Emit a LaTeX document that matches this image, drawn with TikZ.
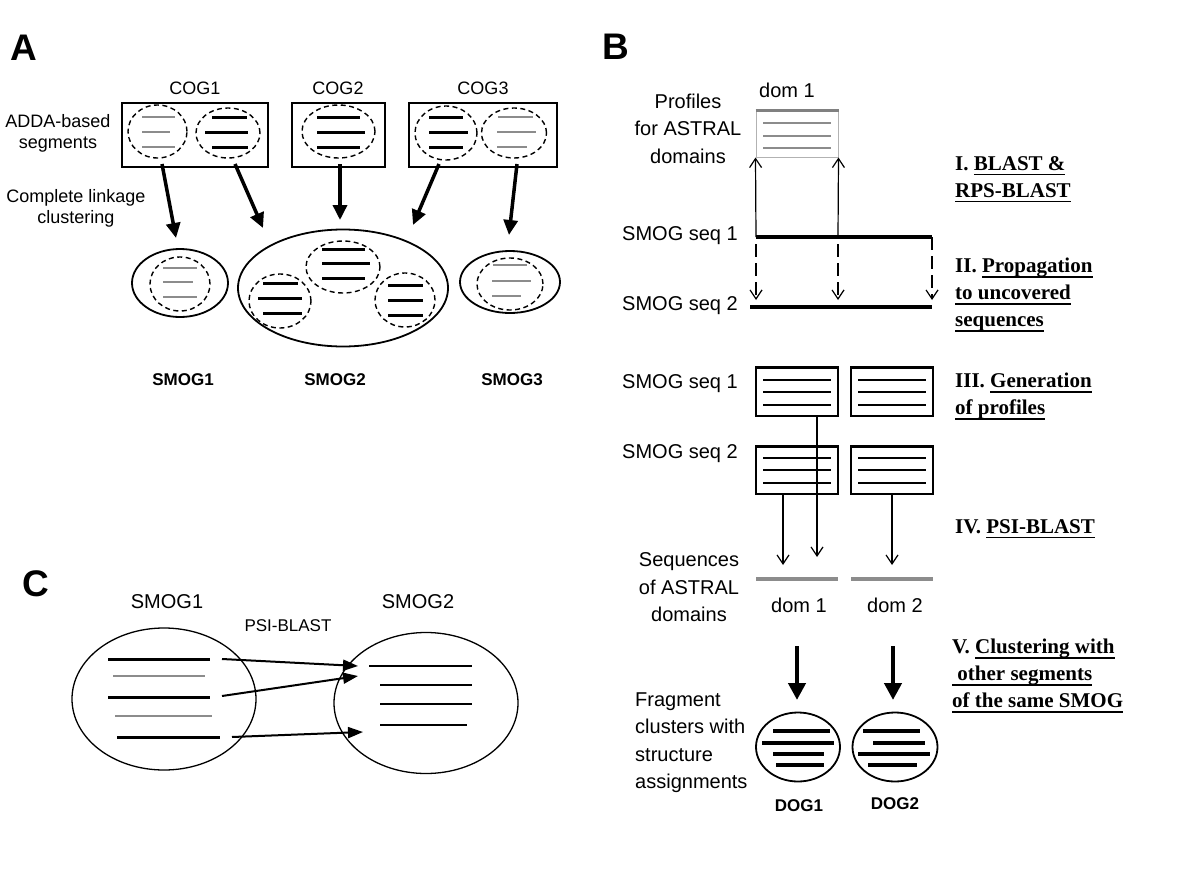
\documentclass[tikz,border=0pt]{standalone}
\usepackage{fontspec}
\setmainfont{Liberation Sans}
\newfontfamily\stepfont{Liberation Serif}
\usetikzlibrary{shapes.geometric,arrows.meta}

\definecolor{seggray}{gray}{0.55}
\definecolor{boxgray}{gray}{0.70}

% underline for the step titles
\newcommand{\stepul}[1]{\setbox0=\hbox{#1}\rlap{\rule[-5.3pt]{\wd0}{1.6pt}}\box0}

\begin{document}
\begin{tikzpicture}[x=1pt,y=-1pt,
  lbl/.style={inner sep=0pt, font=\fontsize{20}{27.5}\selectfont},
  albl/.style={inner sep=0pt, font=\fontsize{18}{21}\selectfont},
  blbl/.style={inner sep=0pt, font=\bfseries\fontsize{17}{20}\selectfont},
  panel/.style={inner sep=0pt, anchor=base west, font=\bfseries\fontsize{37}{37}\selectfont},
  steplbl/.style={inner sep=0pt, anchor=north west, align=left, font=\stepfont\bfseries\fontsize{21}{27}\selectfont},
  cogbox/.style={draw, line width=1.6pt, minimum width=#1, minimum height=64pt, inner sep=0pt},
  segell/.style 2 args={draw, ellipse, line width=1.4pt, dash pattern=on 5pt off 3.5pt, minimum width=#1, minimum height=#2, inner sep=0pt},
  clell/.style 2 args={draw, ellipse, line width=1.8pt, minimum width=#1, minimum height=#2, inner sep=0pt},
  pbox/.style={draw, line width=1.5pt, minimum width=82pt, minimum height=47pt, inner sep=0pt},
  blk/.style={line width=3pt},
  gry/.style={line width=2.5pt, seggray},
  fatarrow/.style={line width=3.5pt, -{Triangle[length=15pt,width=14pt]}},
  thinarrow/.style={line width=1.2pt, -{Straight Barb[length=9pt,width=12pt]}},
  seqline/.style={line width=3.5pt},
]
\useasboundingbox (0,0) rectangle (1200,886);
%\draw [lightgray] (0,0) grid [step=50] (1200,886);

%%% A
\node[panel] (lblA) at (10,60) {A};
\node[albl, anchor=base] (cog1t) at (195,94) {COG1};
\node[albl, anchor=base] (cog2t) at (338,94) {COG2};
\node[albl, anchor=base] (cog3t) at (483,94) {COG3};

\node[cogbox=146] (cog1) at (195,135) {};
\node[cogbox=93] (cog2) at (338.5,135) {};
\node[cogbox=148] (cog3) at (483,135) {};

\node[segell={59}{53}] (s11) at (157.5,131.5) {};
\node[segell={64}{50}] (s12) at (228,133) {};
\node[segell={73}{53}] (s21) at (338.5,131.5) {};
\node[segell={62}{54}] (s31) at (446,133) {};
\node[segell={65}{50}] (s32) at (514,133) {};

\foreach \y/\a/\b in {117/142/175,132/142/170,147/142/175} \draw[gry] (\a,\y) -- (\b,\y);
\foreach \y/\a/\b in {117/212/247,132/205/248,147/212/248} \draw[blk] (\a,\y) -- (\b,\y);
\foreach \y/\a/\b in {117/317/360,132/317/365,147/317/360} \draw[blk] (\a,\y) -- (\b,\y);
\foreach \y/\a/\b in {117/429/463,132/429/468,147/429/463} \draw[blk] (\a,\y) -- (\b,\y);
\foreach \y/\a/\b in {117/498/533,132/497/536,147/497/527} \draw[gry] (\a,\y) -- (\b,\y);

\node[albl, align=center, anchor=north] (adda) at (58,114) {ADDA-based\\segments};
\node[albl, align=center, anchor=north] (cll) at (76,189) {Complete linkage\\clustering};

% clusters
\node[clell={96}{68}] (smog1) at (180,283) {};
\node[segell={60}{54}] (c11) at (180,284) {};
\foreach \y/\a/\b in {268/163/197,282/163/193,297/163/197} \draw[gry] (\a,\y) -- (\b,\y);

\node[clell={210}{117}] (smog2) at (343,288) {};
\node[segell={74}{52}] (c21) at (343,267) {};
\node[segell={62}{54}] (c22) at (280,301) {};
\node[segell={60}{54}] (c23) at (405,300) {};
\foreach \y/\a/\b in {249/322/365,263/322/370,278/322/365} \draw[blk] (\a,\y) -- (\b,\y);
\foreach \y/\a/\b in {283/263/298,298/258/302,313/263/302} \draw[blk] (\a,\y) -- (\b,\y);
\foreach \y/\a/\b in {285/388/423,300/388/423,315/388/423} \draw[blk] (\a,\y) -- (\b,\y);

\node[clell={100}{62}] (smog3) at (510,282) {};
\node[segell={66}{52}] (c31) at (510,284) {};
\foreach \y/\a/\b in {265/493/527,281/492/531,296/492/521} \draw[gry] (\a,\y) -- (\b,\y);

\node[blbl, anchor=base] (smog1t) at (183,385) {SMOG1};
\node[blbl, anchor=base] (smog2t) at (335,385) {SMOG2};
\node[blbl, anchor=base] (smog3t) at (512,385) {SMOG3};

\coordinate (a1) at (162,164); \coordinate (b1) at (176,238);
\coordinate (a2) at (235,164); \coordinate (b2) at (263,228);
\coordinate (a3) at (340,164); \coordinate (b3) at (340,220);
\coordinate (a4) at (439,164); \coordinate (b4) at (413,225);
\coordinate (a5) at (517,164); \coordinate (b5) at (509,235);
\draw[fatarrow] (a1) -- (b1);
\draw[fatarrow] (a2) -- (b2);
\draw[fatarrow] (a3) -- (b3);
\draw[fatarrow] (a4) -- (b4);
\draw[fatarrow] (a5) -- (b5);

%%% B
\node[panel] (lblB) at (602,59) {B};
\node[lbl, anchor=base] (dom1t) at (787,97) {dom 1};
\node[draw=boxgray, line width=1pt, minimum width=82pt, minimum height=46pt, inner sep=0pt] (prof) at (797,134) {};
\draw[line width=3pt, gray] (prof.north west) -- (prof.north east);
\foreach \y in {123,136,148} \draw[line width=1.5pt, seggray] (763,\y) -- (831,\y);
\node[lbl, align=center, anchor=north] (proft) at (688,93.5) {Profiles\\for ASTRAL\\domains};

\node[lbl, anchor=base east] (seq1t) at (738,240) {SMOG seq 1};
\node[lbl, anchor=base east] (seq2t) at (738,310) {SMOG seq 2};
\coordinate (s1a) at (756,237); \coordinate (s1m) at (838,237); \coordinate (s1b) at (932,237);
\coordinate (s2a) at (750,307); \coordinate (s2b) at (932,307);
\draw[seqline] (s1a) -- (s1b);
\draw[seqline] (s2a) -- (s2b);
\draw[thinarrow] (s1a) -- (prof.south west);
\draw[thinarrow] (s1m) -- (prof.south east);

\coordinate (e1) at (756,300); \coordinate (e2) at (838,300); \coordinate (e3) at (932,300);
\draw[thinarrow, dash pattern=on 13pt off 6pt] (756,244) -- (e1);
\draw[thinarrow, dash pattern=on 13pt off 6pt] (838,244) -- (e2);
\draw[thinarrow, dash pattern=on 13pt off 6pt] (s1b) -- (e3);

\node[steplbl] (st1) at (955,156) {I. \stepul{BLAST \&}\\\stepul{RPS-BLAST}};
\node[steplbl] (st2) at (955,258) {II. \stepul{Propagation}\\\stepul{to uncovered}\\\stepul{sequences}};
\node[steplbl] (st3) at (955,373) {III. \stepul{Generation}\\\stepul{of profiles}};
\node[steplbl] (st4) at (955,519) {IV. \stepul{PSI-BLAST}};
\node[steplbl] (st5) at (952,639) {V. \stepul{Clustering with}\\\stepul{\ other segments}\\\stepul{of the same SMOG}};

% profiles
\node[lbl, anchor=base east] (seq1b) at (738,388) {SMOG seq 1};
\node[lbl, anchor=base east] (seq2b) at (738,458) {SMOG seq 2};
\node[pbox, minimum height=48pt] (p11) at (797,392) {};
\node[pbox, minimum height=48pt] (p12) at (892,392) {};
\node[pbox] (p21) at (797,470.5) {};
\node[pbox] (p22) at (892,470.5) {};
\foreach \n in {p11,p12,p21,p22} \draw[line width=3.5pt] (\n.north west) -- (\n.north east);
\foreach \cx in {797,892} \foreach \y in {380,392,405,458,470,483} \draw[line width=1.5pt] (\cx-34,\y) -- (\cx+34,\y);

\coordinate (q1) at (817,557); \coordinate (q2) at (783,565); \coordinate (q3) at (892,565);
\draw[thinarrow] (p11.south -| q1) -- (q1);
\draw[thinarrow] (p21.south -| q2) -- (q2);
\draw[thinarrow] (p22.south) -- (q3);

\draw[line width=4pt, seggray] (756,579) -- (838,579);
\draw[line width=4pt, seggray] (851,579) -- (933,579);
\node[lbl, anchor=base] (dom1b) at (799,612) {dom 1};
\node[lbl, anchor=base] (dom2b) at (895,612) {dom 2};
\node[lbl, align=center, anchor=north] (seqt) at (689,552.5) {Sequences\\of ASTRAL\\domains};

% DOGs
\node[clell={84}{69}] (dog1) at (798,747) {};
\node[clell={85}{69}] (dog2) at (895,747) {};
\foreach \y/\a/\b in {731/773/830,743/762/834,754/773/824,765/776/824} \draw[line width=4pt] (\a,\y) -- (\b,\y);
\foreach \y/\a/\b in {731/863/920,743/873/925,754/858/930,765/868/917} \draw[line width=4pt] (\a,\y) -- (\b,\y);
\coordinate (v1) at (797,646); \coordinate (w1) at (797,700);
\coordinate (v2) at (893,646); \coordinate (w2) at (893,700);
\draw[line width=4.5pt, -{Triangle[length=17pt,width=17pt]}] (v1) -- (w1);
\draw[line width=4.5pt, -{Triangle[length=17pt,width=17pt]}] (v2) -- (w2);
\node[blbl, anchor=base] (dog1t) at (799,811) {DOG1};
\node[blbl, anchor=base] (dog2t) at (895,809) {DOG2};
\node[lbl, align=left, anchor=north west] (fragt) at (635,692.5) {Fragment\\clusters with\\structure\\assignments};

%%% C
\node[panel] (lblC) at (22,596) {C};
\node[lbl, anchor=base] (smc1t) at (167,608) {SMOG1};
\node[lbl, anchor=base] (smc2t) at (418,608) {SMOG2};
\node[inner sep=0pt, font=\fontsize{17}{20}\selectfont, anchor=base] (psit) at (288,631) {PSI-BLAST};
\node[draw, ellipse, line width=1.3pt, minimum width=184pt, minimum height=142pt, inner sep=0pt] (cs1) at (164,699) {};
\node[draw, ellipse, line width=1.3pt, minimum width=184pt, minimum height=141pt, inner sep=0pt] (cs2) at (426,703) {};
\foreach \y/\a/\b in {659/108/210,697/108/210,737/117/220} \draw[blk] (\a,\y) -- (\b,\y);
\foreach \y/\a/\b in {676/113/205,716/115/212} \draw[gry] (\a,\y) -- (\b,\y);
\foreach \y/\a/\b in {666/369/472,685/380/472,704/380/472,725/380/467} \draw[line width=2.2pt] (\a,\y) -- (\b,\y);
\coordinate (f1) at (222,659); \coordinate (g1) at (358,666);
\coordinate (f2) at (222,696); \coordinate (g2) at (358,676);
\coordinate (f3) at (232,737); \coordinate (g3) at (363,732);
\draw[line width=2pt, -{Triangle[length=15pt,width=11pt]}] (f1) -- (g1);
\draw[line width=2pt, -{Triangle[length=15pt,width=11pt]}] (f2) -- (g2);
\draw[line width=2pt, -{Triangle[length=15pt,width=11pt]}] (f3) -- (g3);

\end{tikzpicture}
\end{document}
